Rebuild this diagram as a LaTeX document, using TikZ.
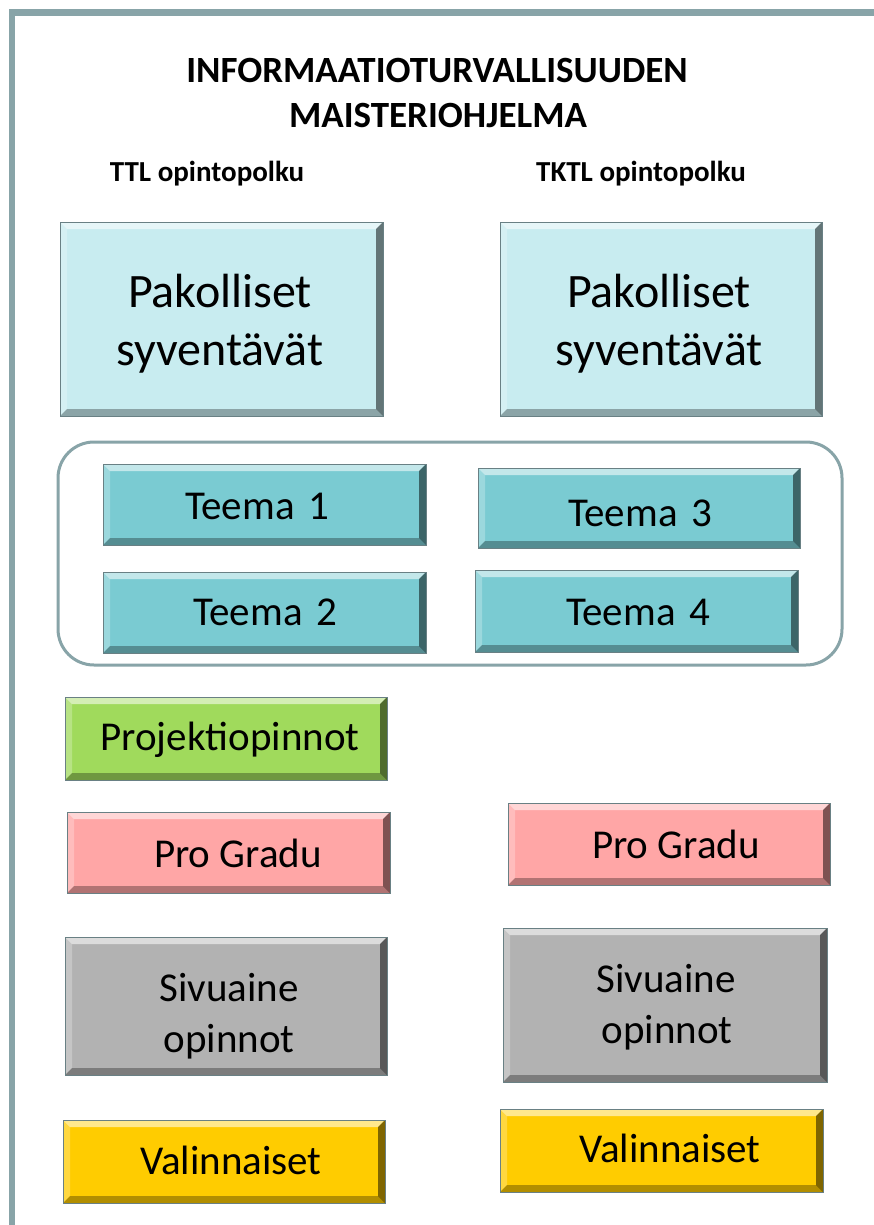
\documentclass[tikz,border=0pt]{standalone}
\usepackage{fontspec}
\setmainfont{Carlito}
\definecolor{framec}{RGB}{136,164,168}
\definecolor{edgec}{RGB}{105,128,132}
\definecolor{pakc}{RGB}{200,236,240}
\definecolor{teemac}{RGB}{122,203,210}
\definecolor{projc}{RGB}{160,218,92}
\definecolor{gradc}{RGB}{255,166,166}
\definecolor{sivc}{RGB}{178,178,178}
\definecolor{valc}{RGB}{255,204,0}
\def\bev{7pt}
\tikzset{
  bevelbox/.style={rectangle, draw=edgec, line width=0.8pt, inner sep=0pt, fill=#1,
    path picture={
      \path (path picture bounding box.south west) coordinate (@sw)
            (path picture bounding box.north east) coordinate (@ne)
            (path picture bounding box.north west) coordinate (@nw)
            (path picture bounding box.south east) coordinate (@se);
      \fill[white,opacity=0.55] (@nw) -- (@ne) -- ([xshift=-\bev,yshift=-\bev]@ne) -- ([xshift=\bev,yshift=-\bev]@nw) -- cycle;
      \fill[white,opacity=0.25] (@nw) -- ([xshift=\bev,yshift=-\bev]@nw) -- ([xshift=\bev,yshift=\bev]@sw) -- (@sw) -- cycle;
      \fill[black,opacity=0.5] (@ne) -- (@se) -- ([xshift=-\bev,yshift=\bev]@se) -- ([xshift=-\bev,yshift=-\bev]@ne) -- cycle;
      \fill[black,opacity=0.3] (@sw) -- (@se) -- ([xshift=-\bev,yshift=\bev]@se) -- ([xshift=\bev,yshift=\bev]@sw) -- cycle;
    }},
  big/.style={font=\fontsize{48}{56}\selectfont, inner sep=0pt, anchor=base},
  lbl/.style={font=\fontsize{41}{48}\selectfont, inner sep=0pt, anchor=base},
  head/.style={font=\bfseries\fontsize{37}{44}\selectfont, inner sep=0pt, anchor=base},
  sub/.style={font=\bfseries\fontsize{29}{34}\selectfont, inner sep=0pt, anchor=base},
}
\begin{document}
\begin{tikzpicture}[x=1pt,y=-1pt]
\useasboundingbox (0,0) rectangle (874,1225);
\fill[white] (0,0) rectangle (874,1225);
\draw[framec, line width=6.5pt] (12,1225) -- (12,12.5) -- (874,12.5);

\node[head] (title1) at (437,83) {INFORMAATIOTURVALLISUUDEN};
\node[head] (title2) at (438,128) {MAISTERIOHJELMA};
\node[sub] (ttl) at (207,182) {TTL opintopolku};
\node[sub] (tktl) at (641,182) {TKTL opintopolku};

% Pakolliset
\node[bevelbox=pakc, minimum width=323pt, minimum height=194pt] (pakL) at (221.5,319) {};
\node[bevelbox=pakc, minimum width=322pt, minimum height=194pt] (pakR) at (661,319) {};
\node[big] (pakLa) at (220,307) {Pakolliset};
\node[big] (pakLb) at (220,365) {syventävät};
\node[big] (pakRa) at (659,307) {Pakolliset};
\node[big] (pakRb) at (659,365) {syventävät};

% container
\node[draw=framec, line width=3pt, rounded corners=36pt, minimum width=784pt, minimum height=223pt, inner sep=0pt] (themes) at (450,553.5) {};

\node[bevelbox=teemac, minimum width=323pt, minimum height=81pt] (t1) at (264.5,504.5) {};
\node[bevelbox=teemac, minimum width=322pt, minimum height=80pt] (t3) at (639,508) {};
\node[bevelbox=teemac, minimum width=323pt, minimum height=81pt] (t2) at (264.5,612.5) {};
\node[bevelbox=teemac, minimum width=323pt, minimum height=82pt] (t4) at (636.5,611) {};
\node[lbl] (t1t) at (257,519) {Teema\kern4pt\ 1};
\node[lbl] (t3t) at (640,526) {Teema\kern4pt\ 3};
\node[lbl] (t2t) at (265,625) {Teema\kern4pt\ 2};
\node[lbl] (t4t) at (638,625) {Teema\kern4pt\ 4};

% Projektiopinnot
\node[bevelbox=projc, minimum width=322pt, minimum height=83pt] (proj) at (226,738.5) {};
\node[lbl] (projt) at (230,750) {Projektiopinnot};

% Pro Gradu
\node[bevelbox=gradc, minimum width=323pt, minimum height=81pt] (pgL) at (228.5,852.5) {};
\node[bevelbox=gradc, minimum width=322pt, minimum height=82pt] (pgR) at (669,844) {};
\node[lbl] (pgLt) at (238,867) {Pro Gradu};
\node[lbl] (pgRt) at (676,858) {Pro Gradu};

% Sivuaine
\node[bevelbox=sivc, minimum width=322pt, minimum height=138pt] (sivL) at (226,1006) {};
\node[bevelbox=sivc, minimum width=324pt, minimum height=154pt] (sivR) at (665,1005) {};
\node[lbl] (sivLa) at (229,1001) {Sivuaine};
\node[lbl] (sivLb) at (229,1052) {opinnot};
\node[lbl] (sivRa) at (666,992) {Sivuaine};
\node[lbl] (sivRb) at (667,1043) {opinnot};

% Valinnaiset
\node[bevelbox=valc, minimum width=322pt, minimum height=83pt] (valL) at (224,1161.5) {};
\node[bevelbox=valc, minimum width=323pt, minimum height=83pt] (valR) at (661.5,1150.5) {};
\node[lbl] (valLt) at (231,1174) {Valinnaiset};
\node[lbl] (valRt) at (670,1162) {Valinnaiset};
\end{tikzpicture}
\end{document}
